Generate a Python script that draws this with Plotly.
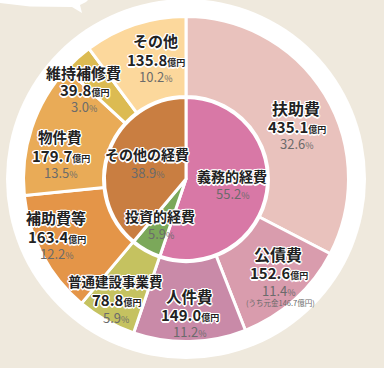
import plotly.graph_objects as go

W, H = 384, 368

# ---- data ----
outer_labels = ["扶助費", "公債費", "人件費", "普通建設事業費", "補助費等", "物件費", "維持補修費", "その他"]
outer_values = [435.1, 152.6, 149.0, 78.8, 163.4, 179.7, 39.8, 135.8]
outer_pct = ["32.6", "11.4", "11.2", "5.9", "12.2", "13.5", "3.0", "10.2"]
outer_colors = ["#e9c2bd", "#d99cad", "#c98aa8", "#c5c260", "#e49548", "#e9ab57", "#dcbb52", "#fcd89c"]

inner_labels = ["義務的経費", "投資的経費", "その他の経費"]
inner_pct = [55.2, 5.9, 38.9]
inner_colors = ["#d878a6", "#7ba85a", "#c97e41"]

note_text = "(うち元金146.7億円)"

# ---- layout helpers ----
CX, CY = 186, 179
R_OUT, R_IN = 162.5, 81.5
HOLE_R = 82.5
BG = "#efe9dd"


def px(x):
    return x / W


def py(y):
    return 1 - y / H


def dom(r):
    return dict(x=[px(CX - r), px(CX + r)], y=[py(CY + r), py(CY - r)])


fig = go.Figure()

# decorative speech-bubble corner (pixel space on hidden axes)
bub_x = [0, 0, 30, 72, 82, 80, 86, 90, 0]
bub_y = [-2, 3, 6.5, 7, 13, 5, 2, -2, -2]
fig.add_trace(go.Scatter(x=bub_x, y=bub_y, mode="lines", fill="toself",
                         fillcolor="white", line=dict(width=0, color="white"),
                         hoverinfo="skip", showlegend=False))

fig.add_trace(go.Pie(
    labels=outer_labels, values=outer_values, sort=False, direction="clockwise",
    rotation=0, hole=HOLE_R / R_OUT, domain=dom(R_OUT),
    marker=dict(colors=outer_colors, line=dict(color="white", width=3)),
    textinfo="none", hoverinfo="label+value", showlegend=False,
))
fig.add_trace(go.Pie(
    labels=inner_labels, values=inner_pct, sort=False, direction="clockwise",
    rotation=0, domain=dom(R_IN),
    marker=dict(colors=inner_colors, line=dict(color="white", width=3)),
    textinfo="none", hoverinfo="label+percent", showlegend=False,
))

FONT = "Noto Sans CJK JP, Noto Sans, sans-serif"
_offs = [(1.5, 0), (-1.5, 0), (0, 1.5), (0, -1.5), (1, 1), (-1, -1), (1, -1), (-1, 1)]
HALO = ", ".join(f"{a}px {b}px 0.5px #fff" for a, b in _offs)

annos = []


def add(text, x, y, size, color="#222", bold=True, halo=True):
    annos.append(dict(
        text=text, x=px(x), y=py(y), xref="paper", yref="paper",
        xanchor="center", yanchor="middle", showarrow=False,
        font=dict(family=FONT, size=size, color=color,
                  weight="bold" if bold else "normal",
                  shadow=HALO if halo else "none"),
    ))


# label anchor positions (pixels): x, name row, value row, pct row, name size
outer_pos = [
    (296, 108, 126, 143, 16),    # 扶助費
    (278, 254, 272, 290, 16),    # 公債費
    (189, 296, 314, 331, 15.5),  # 人件費
    (115, 281, 299, 317, 13.5),  # 普通建設事業費
    (56, 217, 236, 253, 15),     # 補助費等
    (60, 136, 155, 173, 14.5),   # 物件費
    (83, 72, 90, 106, 15),       # 維持補修費
    (155, 40, 59, 76, 15),       # その他
]
for lab, val, pct, (x, yn, yv, yp, fs) in zip(outer_labels, outer_values, outer_pct, outer_pos):
    add(lab, x, yn, fs)
    add(f"{val:.1f}<span style='font-size:9px'>億円</span>", x + 1, yv, 15)
    add(f"{pct}<span style='font-size:9px'>%</span>", x + 1, yp, 13, color="#6b6b6b", bold=False, halo=False)

add(note_text, 280, 302, 7.5, color="#6b6b6b", bold=False, halo=False)

inner_pos = [(232, 176, 193), (160, 216, 233), (147, 154, 173)]
for lab, pct, (x, yn, yp) in zip(inner_labels, inner_pct, inner_pos):
    add(lab, x, yn, 14)
    add(f"{pct:.1f}<span style='font-size:9px'>%</span>", x + 1, yp, 13, color="#6b6b6b", bold=False, halo=False)

# white backdrop disc
shapes = [
    dict(type="circle", xref="x", yref="y", layer="below",
         x0=CX - 180, x1=CX + 180, y0=CY - 180, y1=CY + 180,
         fillcolor="white", line=dict(width=0)),
]

fig.update_layout(
    width=W, height=H, margin=dict(l=0, r=0, t=0, b=0),
    paper_bgcolor=BG, plot_bgcolor=BG,
    xaxis=dict(range=[0, W], visible=False, fixedrange=True, domain=[0, 1]),
    yaxis=dict(range=[H, 0], visible=False, fixedrange=True, domain=[0, 1]),
    annotations=annos, shapes=shapes, showlegend=False,
)

fig.write_html(
    "out.html",
    config={"displayModeBar": False},
    post_script="document.body.style.margin='0';document.body.style.background='%s';" % BG,
)
